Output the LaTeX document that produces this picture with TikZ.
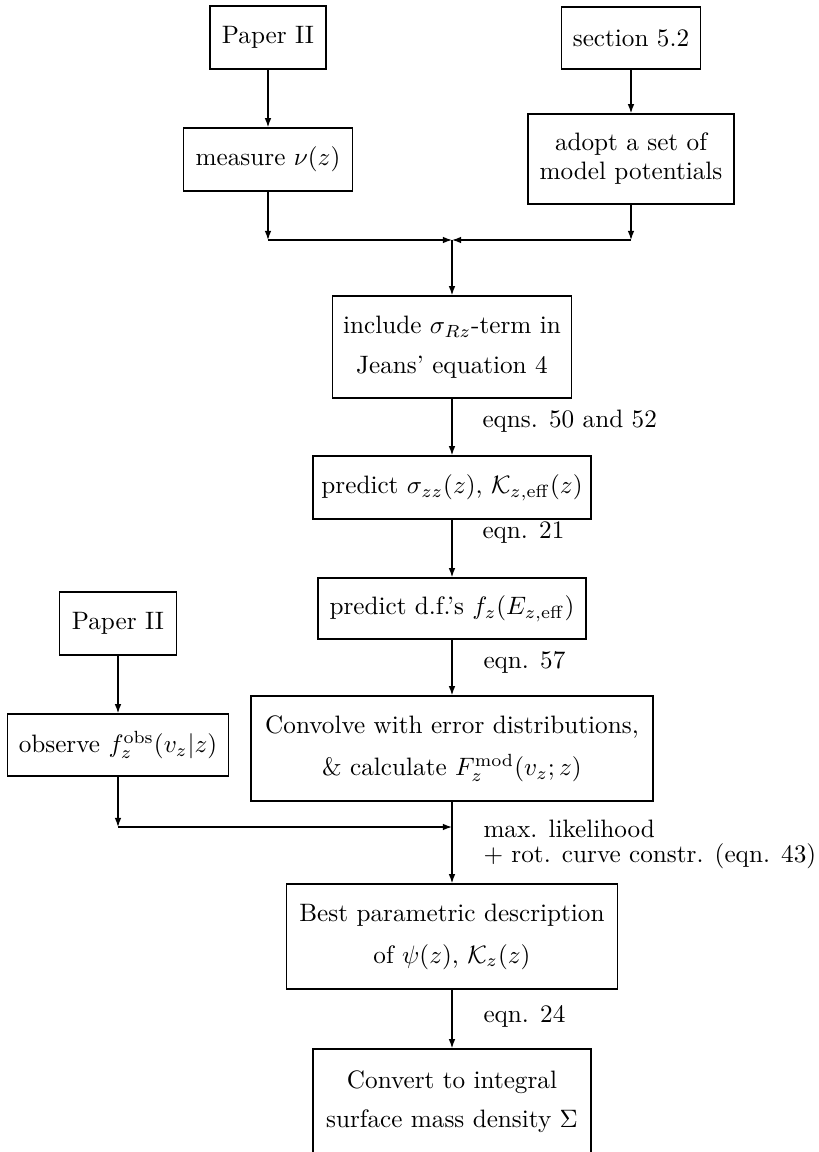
\documentclass[tikz,border=0pt]{standalone}
\usetikzlibrary{arrows.meta}
\def\pxu{0.397pt}
\tikzset{
  bx/.style n args={2}{draw, line width=0.6pt, inner sep=0pt, align=center,
    minimum width=#1*\pxu, minimum height=#2*\pxu},
  arr/.style={line width=0.5pt, -{Latex[length=3.6pt,width=2.6pt]}},
  lbl/.style={anchor=base west, inner sep=0pt}
}
\begin{document}
\begin{tikzpicture}[x=\pxu, y=-\pxu]
\useasboundingbox (0,0) rectangle (819,1152);
% boxes
\node[bx={116}{63}] (p2a) at (268,37.5) {Paper II};
\node[bx={139}{62}] (sec) at (631,38) {section 5.2};
\node[bx={169}{63}] (meas) at (268,159.5) {measure $\nu(z)$};
\node[bx={206}{90}] (adopt) at (631,159) {adopt a set of\\[-0.5pt]model potentials};
\node[bx={239}{102}] (incl) at (452,347) {include $\sigma_{Rz}$-term in\\[3.9pt]Jeans' equation 4};
\node[bx={278}{63}] (pred1) at (452,487.5) {predict $\sigma_{zz}(z)$, $\mathcal{K}_{z,\mathrm{eff}}(z)$};
\node[bx={268}{61}] (pred2) at (452,608.5) {predict d.f.'s $f_z(E_{z,\mathrm{eff}})$};
\node[bx={117}{63}] (p2b) at (118,623.5) {Paper II};
\node[bx={221}{62}] (obs) at (118,745) {observe $f_z^{\mathrm{obs}}(v_z|z)$};
\node[bx={402}{105}] (conv) at (452,748.5) {Convolve with error distributions,\\[4.7pt]\& calculate $F_z^{\mathrm{mod}}(v_z;z)$};
\node[bx={331}{105}] (best) at (452,936.5) {Best parametric description\\[4.7pt]of $\psi(z)$, $\mathcal{K}_z(z)$};
\node[bx={278}{106}] (cvt) at (452,1102) {Convert to integral\\[3.5pt]surface mass density $\Sigma$};
% junctions
\coordinate (j1) at (452,240);
\coordinate (j2) at (452,827);
% connectors
\draw[arr] (p2a) -- (meas);
\draw[arr] (sec) -- (adopt);
\draw[arr] (meas.south) -- (meas.south |- j1);
\draw[arr] (meas.south |- j1) -- (j1);
\draw[arr] (adopt.south) -- (adopt.south |- j1);
\draw[arr] (adopt.south |- j1) -- (j1);
\draw[arr] (j1) -- (incl.north);
\draw[arr] (incl) -- (pred1);
\draw[arr] (pred1) -- (pred2);
\draw[arr] (pred2) -- (conv);
\draw[arr] (p2b) -- (obs);
\draw[arr] (obs.south) -- (obs.south |- j2);
\draw[arr] (obs.south |- j2) -- (j2);
\draw[arr] (conv) -- (best);
\draw[arr] (best) -- (cvt);
% labels
\node[lbl] (l1) at (482,427) {eqns. 50 and 52};
\node[lbl] (l2) at (482,538) {eqn. 21};
\node[lbl] (l3) at (483,668) {eqn. 57};
\node[lbl] (l4) at (483,837) {\begin{tabular}[t]{@{}l@{}}max. likelihood\\[-1.7pt]+ rot. curve constr. (eqn. 43)\end{tabular}};
\node[lbl] (l5) at (483,1022) {eqn. 24};
\end{tikzpicture}
\end{document}
